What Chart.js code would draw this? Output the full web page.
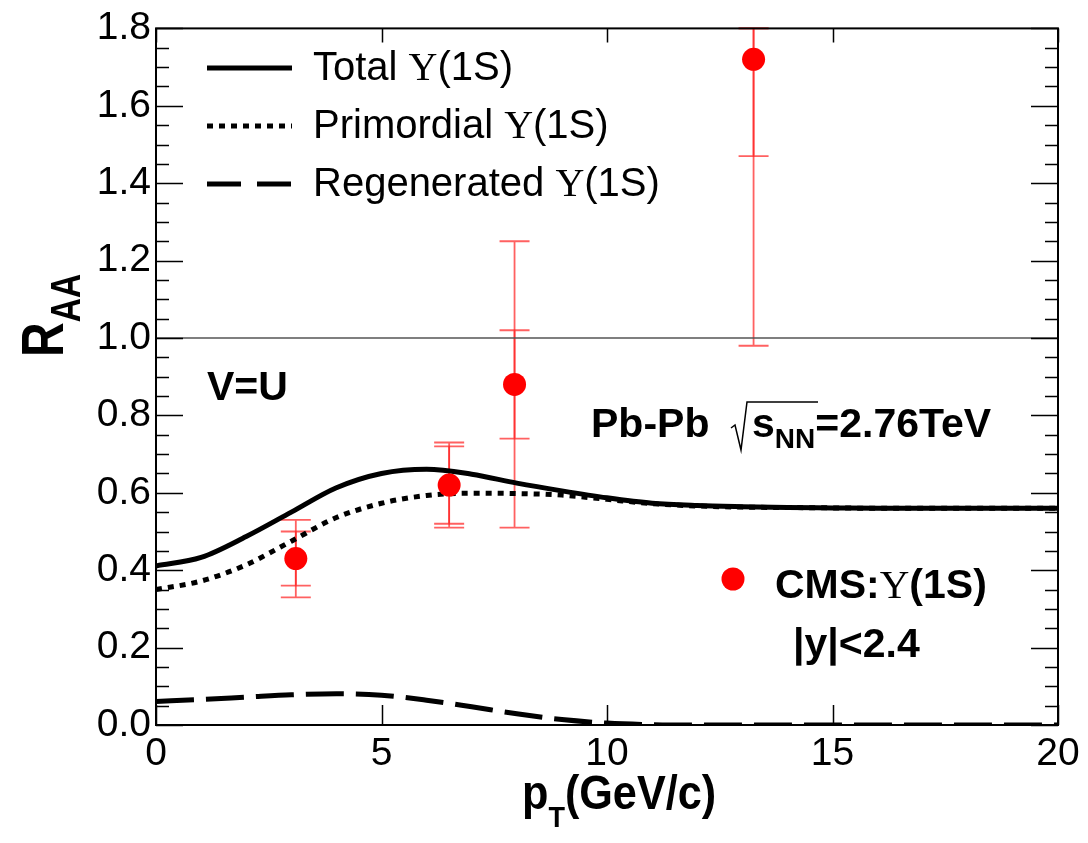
<!DOCTYPE html>
<html>
<head>
<meta charset="utf-8">
<script src="https://cdn.jsdelivr.net/npm/chart.js@4.4.1/dist/chart.umd.min.js"></script>
<style>
  html, body { margin: 0; padding: 0; background: #fff; }
</style>
</head>
<body>
<canvas id="grafico" width="1088" height="843"></canvas>
<script>
// curvas del modelo (pT en GeV/c)
const ptCurva = [0, 1, 2, 3, 4, 5, 6, 7, 8, 9, 10, 11, 12, 13, 14, 15, 16, 17, 18, 19, 20];
const totalRaa = [0.411, 0.433, 0.487, 0.550, 0.613, 0.650, 0.661, 0.648, 0.625, 0.605, 0.587,
                  0.573, 0.567, 0.564, 0.562, 0.561, 0.560, 0.560, 0.560, 0.560, 0.560];
const primordialRaa = [0.350, 0.372, 0.414, 0.475, 0.536, 0.573, 0.593, 0.599, 0.598, 0.594, 0.583,
                       0.572, 0.566, 0.563, 0.562, 0.561, 0.560, 0.560, 0.560, 0.560, 0.560];
const regeneradoRaa = [0.061, 0.066, 0.072, 0.078, 0.081, 0.077, 0.064, 0.047, 0.029, 0.014, 0.005,
                       0.001, 0.000, 0.000, 0.000, 0.000, 0.000, 0.000, 0.000, 0.000, 0.000];

// datos CMS
const cmsPt = [3.1, 6.5, 7.95, 13.25];
const cmsRaa = [0.43, 0.62, 0.88, 1.72];
const cmsErrInterno = [0.07, 0.10, 0.14, 0.25];
const cmsErrExterno = [0.10, 0.11, 0.37, 0.74];

// ejes
const ticksX = [0, 5, 10, 15, 20];
const ticksY = [0, 0.2, 0.4, 0.6, 0.8, 1.0, 1.2, 1.4, 1.6, 1.8];
const lineaReferencia = [1.0, 1.0];

const SANS = '"Liberation Sans", Arial, sans-serif';
const SERIF = '"Liberation Serif", "DejaVu Serif", serif';

function puntos(xs, ys) {
    return xs.map((x, i) => ({ x: x, y: ys[i] }));
}

// texto con varios tramos de fuente
function textoMixto(ctx, x, y, tramos) {
    let cx = x;
    tramos.forEach(t => {
        ctx.font = t.f;
        ctx.fillText(t.t, cx, y + (t.dy || 0));
        cx += ctx.measureText(t.t).width;
    });
}

// barras de error (por debajo de las curvas)
const barrasError = {
    id: 'barrasError',
    beforeDatasetsDraw(chart) {
        const { ctx, scales: { x, y } } = chart;
        ctx.save();
        ctx.strokeStyle = 'rgba(255, 30, 30, 0.7)';
        ctx.lineWidth = 1.8;
        const tope = y.max;
        cmsPt.forEach((pt, i) => {
            const px = x.getPixelForValue(pt);
            [cmsErrInterno[i], cmsErrExterno[i]].forEach(e => {
                const y1 = y.getPixelForValue(Math.min(cmsRaa[i] + e, tope));
                const y2 = y.getPixelForValue(cmsRaa[i] - e);
                ctx.beginPath();
                ctx.moveTo(px, y1); ctx.lineTo(px, y2);
                ctx.moveTo(px - 15, y1); ctx.lineTo(px + 15, y1);
                ctx.moveTo(px - 15, y2); ctx.lineTo(px + 15, y2);
                ctx.stroke();
            });
        });
        ctx.restore();
    }
};

// marcas hacia dentro y marco
const marco = {
    id: 'marco',
    afterDatasetsDraw(chart) {
        const { ctx, chartArea: a, scales: { x, y } } = chart;
        ctx.save();
        ctx.strokeStyle = '#000';
        ctx.lineWidth = 1.5;
        ctx.beginPath();
        for (let i = 0; i <= 36; i++) {
            const py = Math.round(y.getPixelForValue(i * 0.05)) + 0.5;
            const len = i % 4 === 0 ? 27 : 13;
            ctx.moveTo(a.left, py); ctx.lineTo(a.left + len, py);
            ctx.moveTo(a.right, py); ctx.lineTo(a.right - len, py);
        }
        ticksX.forEach(v => {
            const px = Math.round(x.getPixelForValue(v)) + 0.5;
            ctx.moveTo(px, a.bottom); ctx.lineTo(px, a.bottom - 20);
            ctx.moveTo(px, a.top); ctx.lineTo(px, a.top + 14);
        });
        ctx.stroke();
        ctx.lineWidth = 2;
        ctx.strokeRect(a.left, a.top, a.width, a.height);
        ctx.restore();
    }
};

// leyenda, rótulos y títulos de ejes
const textos = {
    id: 'textos',
    afterDraw(chart) {
        const { ctx } = chart;
        ctx.save();
        ctx.fillStyle = '#000';
        ctx.strokeStyle = '#000';
        ctx.textBaseline = 'alphabetic';
        ctx.textAlign = 'left';

        // leyenda de curvas
        const filas = [
            { y: 68, dash: [], nombre: 'Total ' },
            { y: 126, dash: [6, 6], nombre: 'Primordial ' },
            { y: 184, dash: [34, 16], nombre: 'Regenerated ' }
        ];
        filas.forEach(f => {
            ctx.lineWidth = 5;
            ctx.setLineDash(f.dash);
            ctx.beginPath();
            ctx.moveTo(207, f.y); ctx.lineTo(292, f.y);
            ctx.stroke();
            ctx.setLineDash([]);
            textoMixto(ctx, 313, f.y + 12, [
                { t: f.nombre, f: '40px ' + SANS },
                { t: 'Υ', f: '40px ' + SERIF },
                { t: '(1S)', f: '40px ' + SANS }
            ]);
        });

        // V=U
        ctx.font = 'bold 41px ' + SANS;
        ctx.fillText('V=U', 207, 400);

        // Pb-Pb sqrt(sNN)=2.76TeV
        ctx.fillText('Pb-Pb', 591, 437);
        ctx.lineWidth = 1.5;
        ctx.beginPath();
        ctx.moveTo(731, 428);
        ctx.lineTo(735, 425);
        ctx.lineTo(741, 450);
        ctx.lineTo(747, 402);
        ctx.lineTo(818, 402);
        ctx.stroke();
        textoMixto(ctx, 752, 437, [
            { t: 's', f: 'bold 41px ' + SANS },
            { t: 'NN', f: 'bold 28px ' + SANS, dy: 11 },
            { t: '=2.76TeV', f: 'bold 41px ' + SANS }
        ]);

        // marcador CMS
        ctx.fillStyle = '#ff0000';
        ctx.beginPath();
        ctx.arc(733, 579, 11.5, 0, Math.PI * 2);
        ctx.fill();
        ctx.fillStyle = '#000';
        textoMixto(ctx, 775, 598, [
            { t: 'CMS:', f: 'bold 41px ' + SANS },
            { t: 'Υ', f: '41px ' + SERIF },
            { t: '(1S)', f: 'bold 41px ' + SANS }
        ]);
        ctx.font = 'bold 41px ' + SANS;
        ctx.fillText('|y|<2.4', 793, 657);

        // título eje x: pT(GeV/c)
        ctx.save();
        ctx.translate(522, 809);
        ctx.scale(0.9, 1);
        textoMixto(ctx, 0, 0, [
            { t: 'p', f: 'bold 48px ' + SANS },
            { t: 'T', f: 'bold 30px ' + SANS, dy: 18 },
            { t: '(GeV/c)', f: 'bold 48px ' + SANS }
        ]);
        ctx.restore();

        // título eje y: RAA
        ctx.save();
        ctx.translate(63, 357);
        ctx.rotate(-Math.PI / 2);
        ctx.scale(0.8, 1);
        textoMixto(ctx, 0, 0, [
            { t: 'R', f: 'bold 60px ' + SANS },
            { t: 'AA', f: 'bold 42px ' + SANS, dy: 17 }
        ]);
        ctx.restore();

        ctx.restore();
    }
};

const ctx = document.getElementById('grafico').getContext('2d');
Chart.defaults.font.family = SANS;
Chart.defaults.color = '#000';

new Chart(ctx, {
    type: 'line',
    data: {
        datasets: [
            {
                label: 'CMS',
                data: puntos(cmsPt, cmsRaa),
                showLine: false,
                pointRadius: 11.5,
                pointBackgroundColor: '#ff0000',
                pointBorderWidth: 0,
                order: 0
            },
            {
                label: 'Total',
                data: puntos(ptCurva, totalRaa),
                borderColor: '#000',
                borderWidth: 5,
                pointRadius: 0,
                cubicInterpolationMode: 'monotone',
                order: 1
            },
            {
                label: 'Primordial',
                data: puntos(ptCurva, primordialRaa),
                borderColor: '#000',
                borderWidth: 5,
                borderDash: [6, 6],
                pointRadius: 0,
                cubicInterpolationMode: 'monotone',
                order: 2
            },
            {
                label: 'Regenerated',
                data: puntos(ptCurva, regeneradoRaa),
                borderColor: '#000',
                borderWidth: 5,
                borderDash: [38, 12],
                pointRadius: 0,
                cubicInterpolationMode: 'monotone',
                order: 3
            },
            {
                label: 'ref',
                data: puntos([0, 20], lineaReferencia),
                borderColor: '#555',
                borderWidth: 1.5,
                pointRadius: 0,
                order: 4
            }
        ]
    },
    options: {
        responsive: false,
        animation: false,
        layout: {
            padding: { top: 25, right: 30, left: 0, bottom: 0 }
        },
        plugins: {
            legend: { display: false },
            tooltip: { enabled: false }
        },
        scales: {
            x: {
                type: 'linear',
                min: 0,
                max: 20,
                afterBuildTicks: s => { s.ticks = ticksX.map(v => ({ value: v })); },
                ticks: {
                    font: { size: 39 },
                    padding: 6,
                    maxRotation: 0,
                    autoSkip: false
                },
                grid: { display: false, drawTicks: false },
                border: { display: false },
                afterFit: s => { s.height = 118; }
            },
            y: {
                min: 0,
                max: 1.8,
                afterBuildTicks: s => { s.ticks = ticksY.map(v => ({ value: v })); },
                ticks: {
                    font: { size: 39 },
                    padding: 5,
                    autoSkip: false,
                    callback: v => v.toFixed(1)
                },
                grid: { display: false, drawTicks: false },
                border: { display: false },
                afterFit: s => { s.width = 156; }
            }
        }
    },
    plugins: [barrasError, marco, textos]
});
</script>
</body>
</html>
